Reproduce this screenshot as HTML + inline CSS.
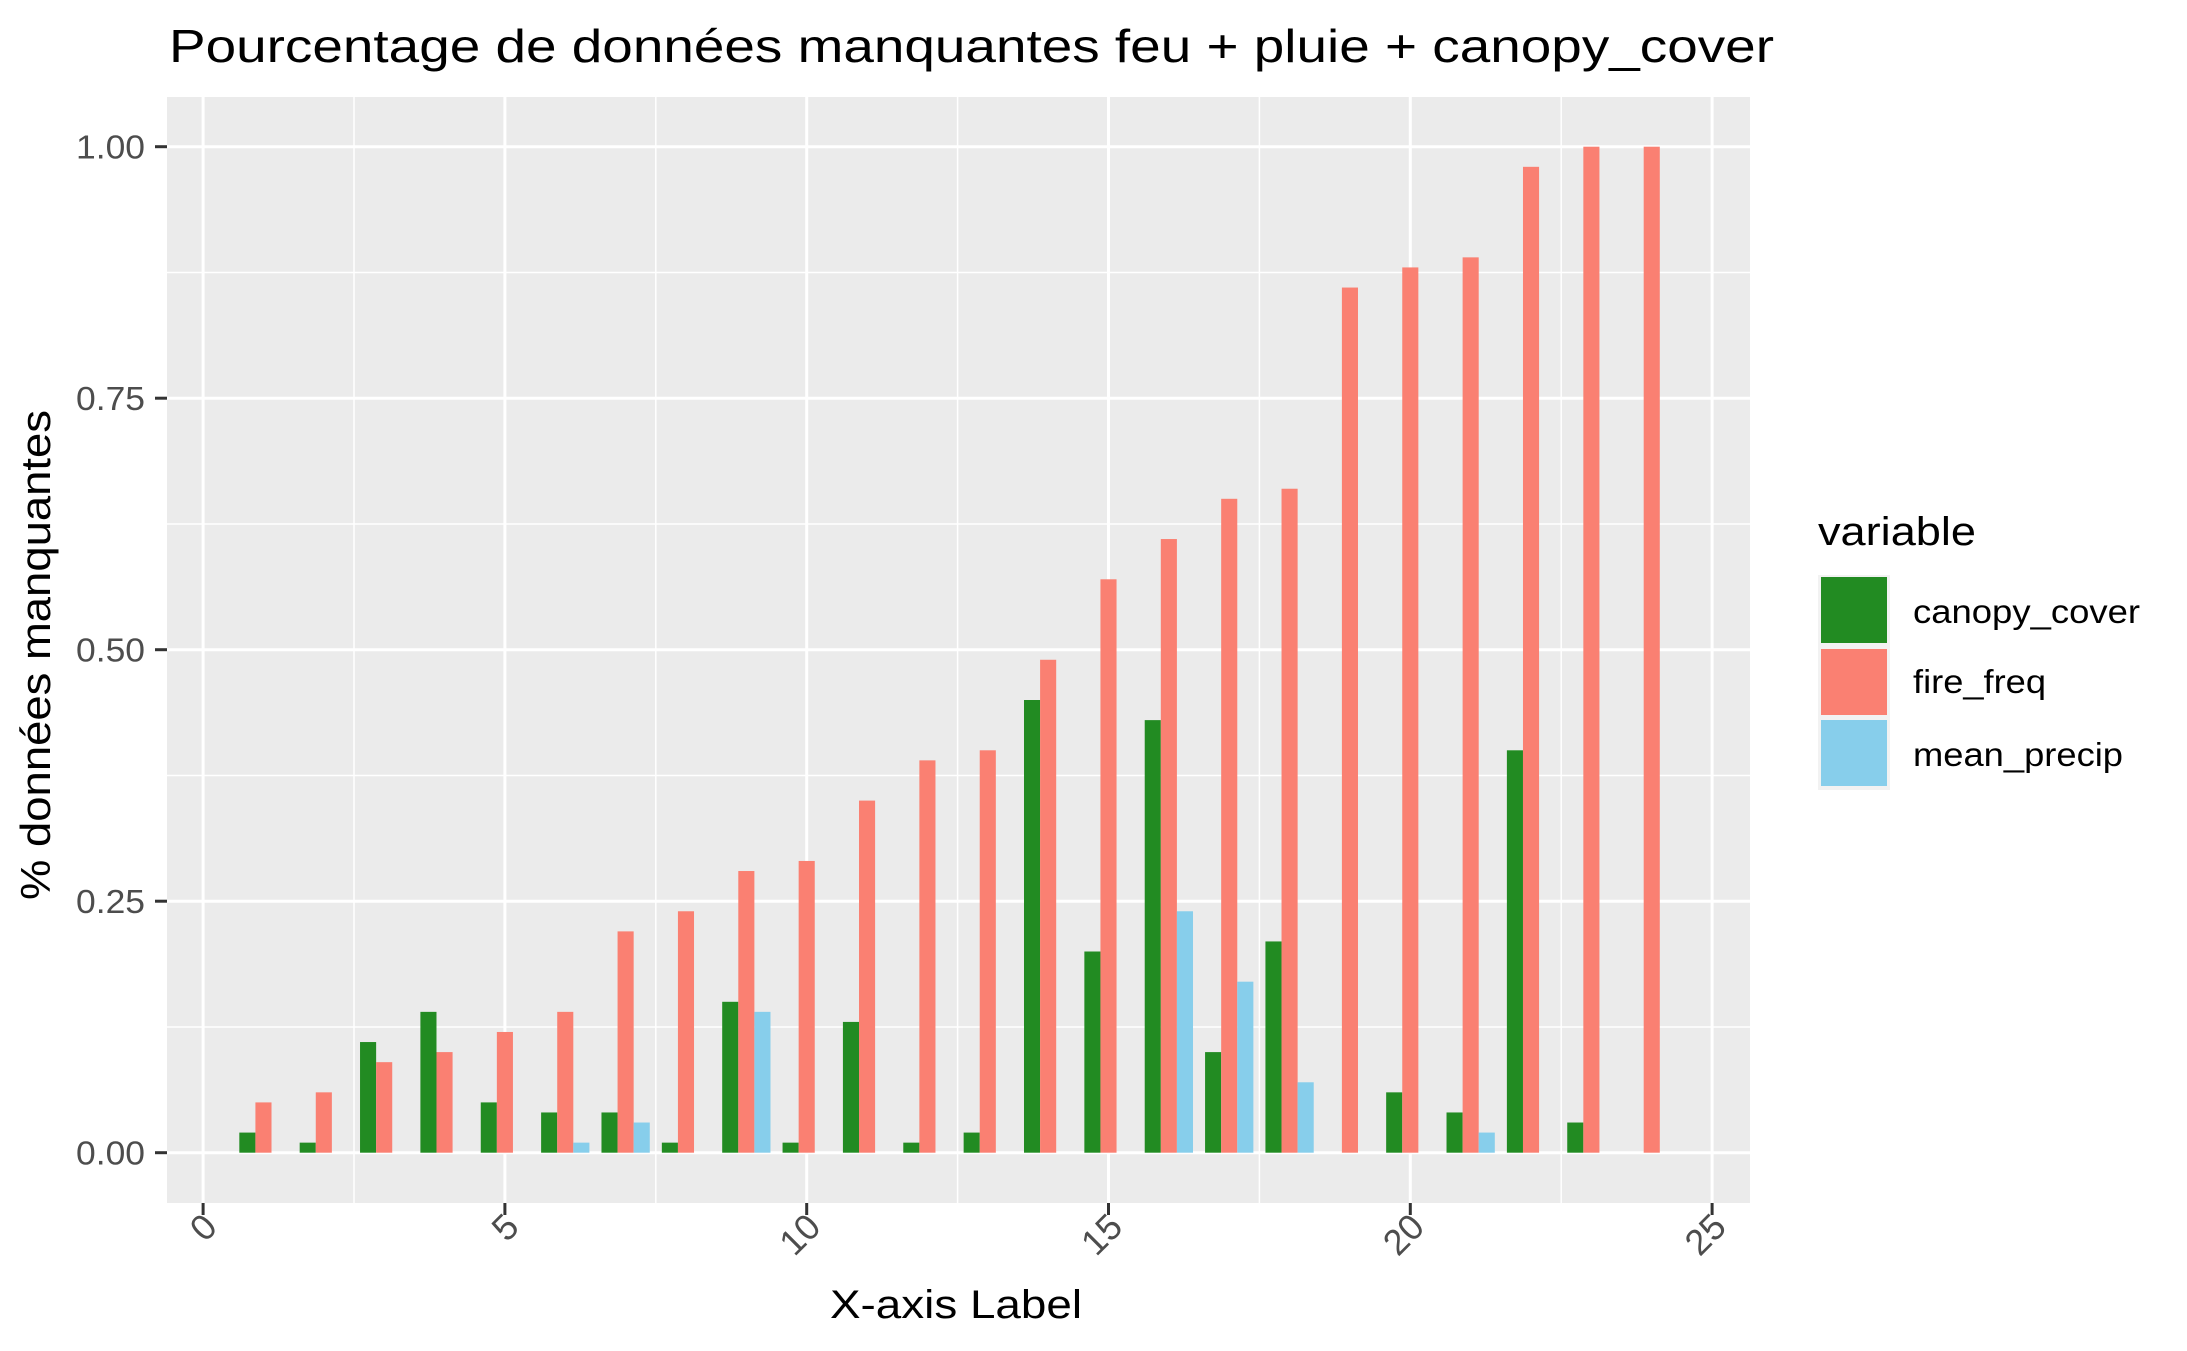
<!DOCTYPE html>
<html><head><meta charset="utf-8"><style>
html,body{margin:0;padding:0;background:#fff}
svg{display:block;font-family:"Liberation Sans",sans-serif}
</style></head><body>
<svg id="chart" width="2187" height="1351" viewBox="0 0 2187 1351" xmlns="http://www.w3.org/2000/svg">
<text x="169" y="62" font-size="46" fill="#000" textLength="1605" lengthAdjust="spacingAndGlyphs">Pourcentage de données manquantes feu + pluie + canopy_cover</text>
<rect x="167" y="97" width="1583" height="1106" fill="#ebebeb"/>
<g id="grid"></g>
<g id="bars"></g>
<g id="axes"></g>
<text x="956" y="1318" font-size="40" text-anchor="middle" textLength="252" lengthAdjust="spacingAndGlyphs">X-axis Label</text>
<text transform="translate(50,655) rotate(-90)" font-size="42" text-anchor="middle" textLength="490" lengthAdjust="spacingAndGlyphs">% données manquantes</text>
<g>
<text x="1818" y="545" font-size="40" textLength="158" lengthAdjust="spacingAndGlyphs">variable</text>
<rect x="1818" y="575" width="72" height="215" fill="#f2f2f2"/>
<rect x="1821" y="577" width="66" height="66" fill="#228b22"/>
<rect x="1821" y="649" width="66" height="66" fill="#fa8072"/>
<rect x="1821" y="720" width="66" height="66" fill="#87ceeb"/>
<text x="1913" y="623" font-size="33" textLength="227" lengthAdjust="spacingAndGlyphs">canopy_cover</text>
<text x="1913" y="693" font-size="33" textLength="133" lengthAdjust="spacingAndGlyphs">fire_freq</text>
<text x="1913" y="766" font-size="33" textLength="210" lengthAdjust="spacingAndGlyphs">mean_precip</text>
</g>
</svg>
<script>
const categories = [1,2,3,4,5,6,7,8,9,10,11,12,13,14,15,16,17,18,19,20,21,22,23,24];
const canopyCover = [0.02,0.01,0.11,0.14,0.05,0.04,0.04,0.01,0.15,0.01,0.13,0.01,0.02,0.45,0.20,0.43,0.10,0.21,0,0.06,0.04,0.40,0.03,0];
const fireFreq = [0.05,0.06,0.09,0.10,0.12,0.14,0.22,0.24,0.28,0.29,0.35,0.39,0.40,0.49,0.57,0.61,0.65,0.66,0.86,0.88,0.89,0.98,1.00,1.00];
const meanPrecip = [0,0,0,0,0,0.01,0.03,0,0.14,0,0,0,0,0,0,0.24,0.17,0.07,0,0,0.02,0,0,0];
const xTicks = [0,5,10,15,20,25];
const yTicks = [0,0.25,0.5,0.75,1];
const yTickLabels = ["0.00","0.25","0.50","0.75","1.00"];

const NS="http://www.w3.org/2000/svg";
const PL=167, PR=1750, PT=97, PB=1203;
function xs(v){return 203.1 + v*60.36;}
function ys(v){return 1152.7 - v*1006;}
function mk(tag, attrs, parent){const e=document.createElementNS(NS,tag);for(const k in attrs)e.setAttribute(k,attrs[k]);parent.appendChild(e);return e;}
const grid=document.getElementById('grid'), bars=document.getElementById('bars'), axes=document.getElementById('axes');

for(let i=0;i<yTicks.length-1;i++){
  const v=(yTicks[i]+yTicks[i+1])/2;
  const l=mk('line',{x1:PL,x2:PR,y1:ys(v),y2:ys(v),stroke:'#fff','stroke-width':1.5},grid);
  
  
}
for(let i=0;i<xTicks.length-1;i++){
  const v=(xTicks[i]+xTicks[i+1])/2;
  const l=mk('line',{x1:xs(v),x2:xs(v),y1:PT,y2:PB,stroke:'#fff','stroke-width':1.5},grid);
  
  
}
yTicks.forEach((v,i)=>{
  const l=mk('line',{x1:PL,x2:PR,y1:ys(v),y2:ys(v),stroke:'#fff','stroke-width':3},grid);
  
  
  const t=mk('line',{x1:155,x2:167,y1:ys(v),y2:ys(v),stroke:'#333','stroke-width':3},axes);
  
  
  const tx=mk('text',{x:145,y:ys(v)+12,'font-size':33,fill:'#4d4d4d','text-anchor':'end',textLength:69,lengthAdjust:'spacingAndGlyphs'},axes);
  tx.textContent=yTickLabels[i];
  
  
});
xTicks.forEach(v=>{
  const l=mk('line',{x1:xs(v),x2:xs(v),y1:PT,y2:PB,stroke:'#fff','stroke-width':3},grid);
  
  
  const t=mk('line',{x1:xs(v),x2:xs(v),y1:PB,y2:PB+12,stroke:'#333','stroke-width':3},axes);
  
  
  const tx=mk('text',{transform:`translate(${xs(v)+16},${PB+26}) rotate(-45)`,'font-size':36,fill:'#4d4d4d','text-anchor':'end'},axes);
  tx.textContent=String(v);
  
  
});
const series=[[canopyCover,'#228b22','bar-canopy-cover',-1],[fireFreq,'#fa8072','bar-fire-freq',0],[meanPrecip,'#87ceeb','bar-mean-precip',1]];
const w=0.8/3;
categories.forEach((c,i)=>{
  series.forEach(([arr,col,name,off])=>{
    const v=arr[i];
    if(!(v>0)) return;
    const x0=xs(c+off*w-w/2), x1=xs(c+off*w+w/2);
    const r=mk('rect',{x:x0,y:ys(v),width:x1-x0,height:ys(0)-ys(v),fill:col},bars);
    
    
  });
});
</script>
</body></html>
